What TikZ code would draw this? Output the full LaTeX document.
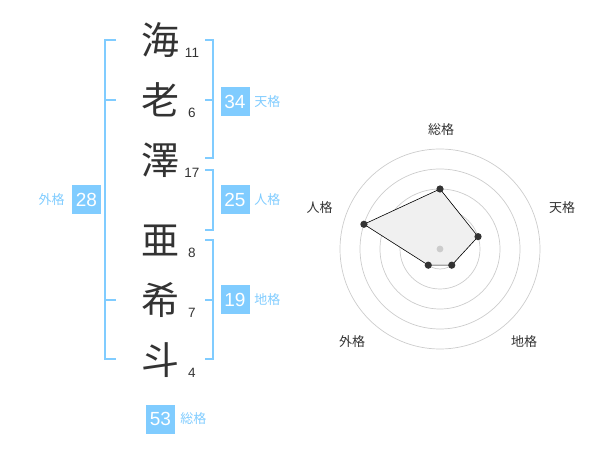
\documentclass[tikz,border=0pt]{standalone}
\usepackage{fontspec}
\setmainfont{Liberation Sans}
\newfontfamily\jp{Noto Sans CJK JP}
\usetikzlibrary{positioning}
\definecolor{kblue}{HTML}{80CCFF}
\definecolor{ink}{HTML}{333333}
\begin{document}
\begin{tikzpicture}[x=1pt,y=-1pt,
  moji/.style={font=\jp\fontsize{38}{38}\selectfont,text=ink,inner sep=0pt},
  kaku/.style={font=\fontsize{13.5}{14}\selectfont,text=ink,inner sep=0pt},
  kbox/.style={fill=kblue,text=white,minimum size=29pt,inner sep=0pt,font=\fontsize{19}{19}\selectfont},
  klabel/.style={font=\jp\fontsize{13}{13}\selectfont,text=kblue,inner sep=0pt},
  bracket/.style={draw=kblue,line width=2pt},
  rlabel/.style={font=\jp\fontsize{13}{13}\selectfont,text=ink,inner sep=0pt}]
\useasboundingbox (0,0) rectangle (600,470);
\node[moji] (c1) at (160,40) {海};
\node[moji] (c2) at (160,100) {老};
\node[moji] (c3) at (160,160) {澤};
\node[moji] (c4) at (160,240) {亜};
\node[moji] (c5) at (160,300) {希};
\node[moji] (c6) at (160,360) {斗};
\node[kaku] (n1) at ([shift={(32,13)}]c1) {11};
\node[kaku] (n2) at ([shift={(32,13)}]c2) {6};
\node[kaku] (n3) at ([shift={(32,13)}]c3) {17};
\node[kaku] (n4) at ([shift={(32,13)}]c4) {8};
\node[kaku] (n5) at ([shift={(32,13)}]c5) {7};
\node[kaku] (n6) at ([shift={(32,13)}]c6) {4};
\coordinate (L) at (105.3,0);
\coordinate (Lt) at (116,0);
\coordinate (R) at (213.3,0);
\coordinate (Rt) at (205,0);
\draw[bracket] (c1 -| Lt)--(c1 -| L)--([yshift=1pt]c6 -| L)--([yshift=1pt]c6 -| Lt);
\draw[bracket] (c2 -| L)--(c2 -| Lt) (c5 -| L)--(c5 -| Lt);
\draw[bracket] (c1 -| Rt)--(c1 -| R)--([yshift=1.5pt]c3 -| R)--([yshift=1.5pt]c3 -| Rt);
\draw[bracket] (c2 -| R)--(c2 -| Rt);
\draw[bracket] ([yshift=-10pt]c3 -| Rt)--([yshift=-10pt]c3 -| R)--([yshift=10pt]c4 -| R)--([yshift=10pt]c4 -| Rt);
\draw[bracket] (c4 -| Rt)--(c4 -| R)--([yshift=1pt]c6 -| R)--([yshift=1pt]c6 -| Rt);
\draw[bracket] (c5 -| R)--(c5 -| Rt);
\node[kbox] (ten) at (235,102) {34};
\node[klabel,right=4.5pt of ten] (tenl) {天格};
\node[kbox] (jin) at (235,200) {25};
\node[klabel,right=4.5pt of jin] (jinl) {人格};
\node[kbox] (chi) at (235,300) {19};
\node[klabel,right=4.5pt of chi] (chil) {地格};
\node[kbox] (gai) at (86.5,200) {28};
\node[klabel,left=7pt of gai] (gail) {外格};
\node[kbox] (sou) at (160.5,419) {53};
\node[klabel,right=5pt of sou] (soul) {総格};
\begin{scope}[shift={(440,249)},y=1pt]
\foreach \r in {20,40,...,100}
  \draw[black!20,line width=.7pt] (0,0) circle (\r);
\coordinate (p1) at (90:60);
\coordinate (p2) at (18:40);
\coordinate (p3) at (-54:20);
\coordinate (p4) at (-126:20);
\coordinate (p5) at (162:80);
\filldraw[fill=black!6,draw=black,line width=.6pt] (p1)--(p2)--(p3)--(p4)--(p5)--cycle;
\foreach \p in {p1,p2,p3,p4,p5}
  \fill[ink] (\p) circle (3.6);
\fill[black!20] (0,0) circle (3.4);
\node[rlabel] (r1) at (1,119) {総格};
\node[rlabel] (r2) at (122,41) {天格};
\node[rlabel] (r3) at (84,-93) {地格};
\node[rlabel] (r4) at (-88,-93) {外格};
\node[rlabel] (r5) at (-120.5,41) {人格};
\end{scope}
\end{tikzpicture}
\end{document}
